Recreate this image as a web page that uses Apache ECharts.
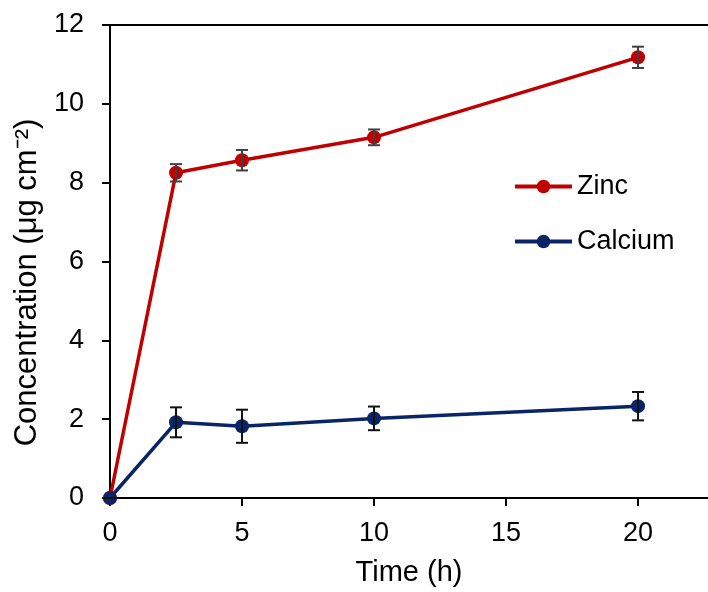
<!DOCTYPE html>
<html>
<head>
<meta charset="utf-8">
<script src="https://cdn.jsdelivr.net/npm/echarts@6/dist/echarts.min.js"></script>
<style>
  html, body { margin: 0; padding: 0; background: #fff; }
  #chart { width: 708px; height: 592px; }
</style>
</head>
<body>
<div id="chart"></div>
<script>
// time points (h)
var times = [0, 2.5, 5, 10, 20]
// zinc release, mean and error
var zincMean = [0, 8.25, 8.57, 9.15, 11.18]
var zincErr = [0, 0.22, 0.26, 0.2, 0.27]
// calcium release, mean and error
var calciumMean = [0, 1.92, 1.82, 2.02, 2.33]
var calciumErr = [0, 0.38, 0.42, 0.3, 0.36]
var xTicks = [0, 5, 10, 15, 20]

var FONT = 'Liberation Sans, Arial, sans-serif'

function pairs(mean) {
  return times.map(function (t, i) { return [t, mean[i]] })
}
function errData(mean, err) {
  return times.map(function (t, i) { return [t, mean[i] - err[i], mean[i] + err[i]] })
}

function errorBar(color) {
  return function (params, api) {
    var x = api.value(0)
    var lo = api.coord([x, api.value(1)])
    var hi = api.coord([x, api.value(2)])
    var w = 6
    var style = { stroke: color, lineWidth: 2 }
    return {
      type: 'group',
      children: [
        { type: 'line', shape: { x1: lo[0], y1: lo[1], x2: hi[0], y2: hi[1] }, style: style },
        { type: 'line', shape: { x1: lo[0] - w, y1: lo[1], x2: lo[0] + w, y2: lo[1] }, style: style },
        { type: 'line', shape: { x1: hi[0] - w, y1: hi[1], x2: hi[0] + w, y2: hi[1] }, style: style }
      ]
    }
  }
}

var chart = echarts.init(document.getElementById('chart'))
chart.setOption({
  animation: false,
  grid: { left: 110, top: 25, right: 0, bottom: 94 },
  legend: {
    orient: 'vertical',
    left: 508,
    top: 168,
    itemWidth: 57,
    itemHeight: 17,
    itemGap: 28,
    lineStyle: { width: 4 },
    textStyle: { fontFamily: FONT, fontSize: 27, lineHeight: 27, color: '#000' },
    data: ['Zinc', 'Calcium']
  },
  xAxis: [{
    type: 'value',
    min: 0,
    max: 22.65,
    name: 'Time (h)',
    nameLocation: 'middle',
    nameGap: 60,
    nameTextStyle: { fontFamily: FONT, fontSize: 29, color: '#000' },
    axisLine: { lineStyle: { color: '#000', width: 2 } },
    axisTick: { show: true, length: 8, customValues: xTicks, lineStyle: { color: '#000', width: 2 } },
    axisLabel: { fontFamily: FONT, fontSize: 27, color: '#000', margin: 22, customValues: xTicks },
    splitLine: { show: false }
  }, {
    type: 'value',
    position: 'top',
    min: 0,
    max: 22.65,
    axisLine: { show: true, lineStyle: { color: '#000', width: 2 } },
    axisTick: { show: false },
    axisLabel: { show: false },
    splitLine: { show: false }
  }],
  yAxis: {
    type: 'value',
    min: 0,
    max: 12,
    interval: 2,
    name: 'Concentration (μg cm⁻²)',
    nameLocation: 'middle',
    nameGap: 63,
    nameTextStyle: { fontFamily: FONT, fontSize: 31, color: '#000', padding: [0, 42, 0, 0] },
    axisLine: { show: true, lineStyle: { color: '#000', width: 2 } },
    axisTick: { show: true, length: 8, lineStyle: { color: '#000', width: 2 } },
    axisLabel: { fontFamily: FONT, fontSize: 27, color: '#000', margin: 26 },
    splitLine: { show: false }
  },
  series: [
    {
      name: 'Zinc',
      type: 'line',
      data: pairs(zincMean),
      symbol: 'circle',
      symbolSize: 14,
      itemStyle: { color: '#c00000' },
      lineStyle: { color: '#c00000', width: 3.5 },
      z: 3
    },
    {
      name: 'Calcium',
      type: 'line',
      data: pairs(calciumMean),
      symbol: 'circle',
      symbolSize: 14,
      itemStyle: { color: '#0a2468' },
      lineStyle: { color: '#0a2468', width: 3.5 },
      z: 3
    },
    {
      type: 'custom',
      renderItem: errorBar('#404040'),
      data: errData(zincMean, zincErr),
      encode: { x: 0, y: [1, 2] },
      z: 4
    },
    {
      type: 'custom',
      renderItem: errorBar('#111'),
      data: errData(calciumMean, calciumErr),
      encode: { x: 0, y: [1, 2] },
      z: 4
    }
  ]
})
</script>
</body>
</html>
